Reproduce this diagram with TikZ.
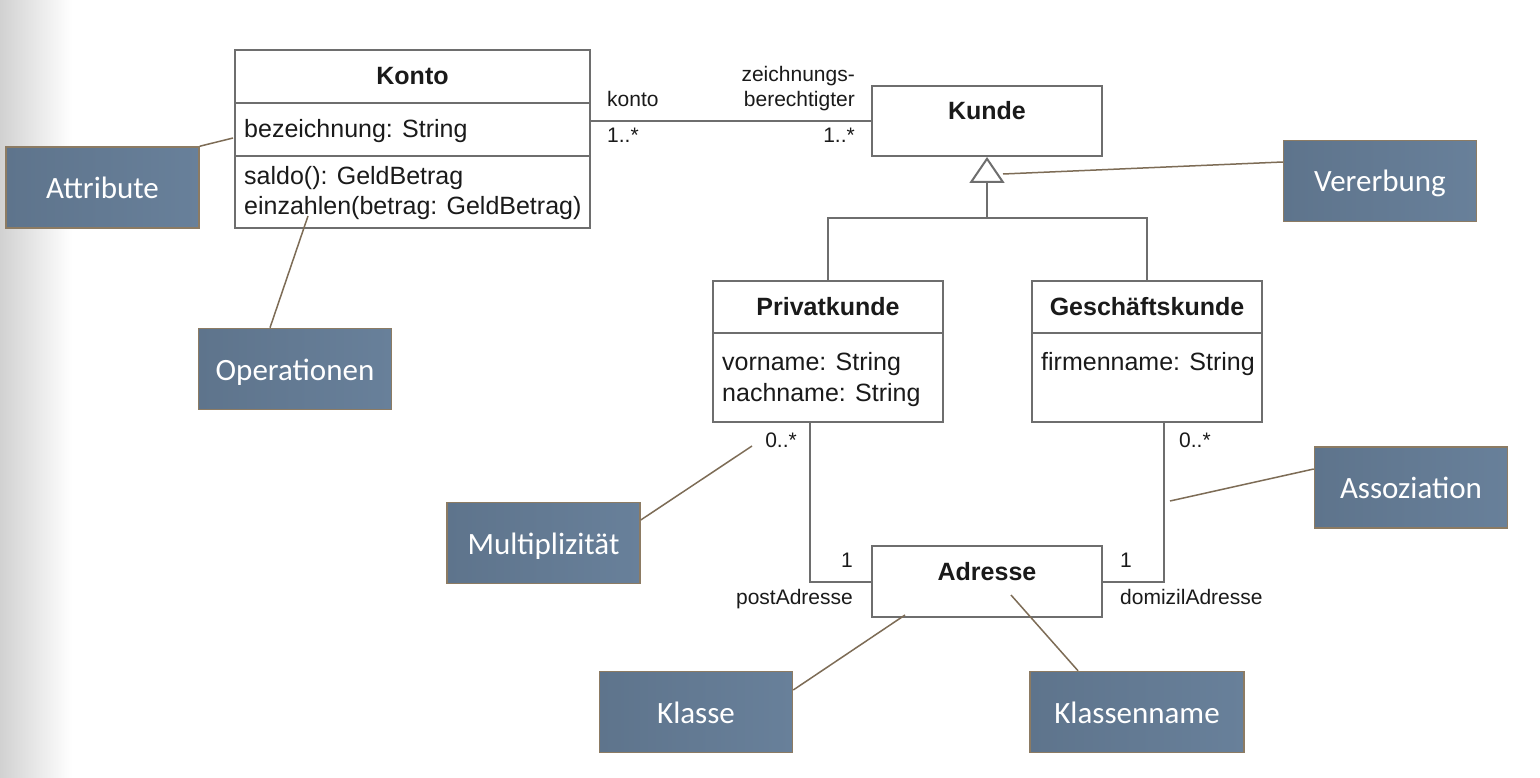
\documentclass[tikz,border=0pt]{standalone}
\usepackage{fontspec}
\setmainfont{Liberation Sans}
\newfontfamily\calfont{Carlito}
\usetikzlibrary{arrows.meta}
\definecolor{umlgray}{HTML}{6E6E6E}
\definecolor{umltext}{HTML}{1A1A1A}
\definecolor{calfill}{HTML}{68809A}
\definecolor{calfillL}{HTML}{5E748C}
\definecolor{calborder}{HTML}{8C7B63}
\definecolor{calline}{HTML}{7D6C56}
\begin{document}
\begin{tikzpicture}[x=1pt,y=-1pt,
  umlbox/.style={draw=umlgray, line width=2pt, fill=white, inner sep=0pt},
  body/.style={font=\fontsize{25}{30}\selectfont, text=umltext, inner sep=0pt},
  title/.style={font=\fontsize{25}{30}\selectfont\bfseries, text=umltext, inner sep=0pt},
  lbl/.style={font=\fontsize{21}{25}\selectfont, text=umltext, inner sep=0pt},
  callout/.style={draw=calborder, line width=1.5pt, left color=calfillL, right color=calfill,
    text=white, font=\calfont\fontsize{31}{36}\selectfont,
    text height=24pt, text depth=2pt,
    minimum width=193pt, minimum height=81pt, inner sep=0pt},
  calln/.style={draw=calline, line width=1.5pt},
  assoc/.style={draw=umlgray, line width=2pt},
  divider/.style={draw=umlgray, line width=2pt},
]
\useasboundingbox (0,0) rectangle (1540,778);
\fill[white] (0,0) rectangle (1540,778);
\shade[left color=black!18, right color=white] (0,0) rectangle (72,778);

% ---------- Konto ----------
\node[umlbox, minimum width=355pt, minimum height=178pt] (konto) at (412.5,139) {};
\draw[divider] (konto.west |- 0,103) -- (konto.east |- 0,103);
\draw[divider] (konto.west |- 0,156) -- (konto.east |- 0,156);
\node[title, anchor=base] (kontoT) at (412.5,85) {Konto};
\node[body, anchor=base west] (kontoA) at (244,138) {bezeichnung: String};
\node[body, anchor=base west] (kontoO1) at (244,185) {saldo(): GeldBetrag};
\node[body, anchor=base west] (kontoO2) at (244,215) {einzahlen(betrag: GeldBetrag)};

% ---------- Kunde ----------
\node[umlbox, minimum width=230pt, minimum height=70pt] (kunde) at (987,121) {};
\node[title, anchor=base] (kundeT) at (987,120) {Kunde};

% ---------- Privatkunde ----------
\node[umlbox, minimum width=230pt, minimum height=141pt] (priv) at (828,351.5) {};
\draw[divider] (priv.west |- 0,333) -- (priv.east |- 0,333);
\node[title, anchor=base] (privT) at (828,315) {Privatkunde};
\node[body, anchor=base west] (privA1) at (722,370) {vorname: String};
\node[body, anchor=base west] (privA2) at (722,401) {nachname: String};

% ---------- Geschaeftskunde ----------
\node[umlbox, minimum width=230pt, minimum height=141pt] (gesch) at (1147,351.5) {};
\draw[divider] (gesch.west |- 0,333) -- (gesch.east |- 0,333);
\node[title, anchor=base] (geschT) at (1147,315) {Geschäftskunde};
\node[body, anchor=base west] (geschA) at (1041,370) {firmenname: String};

% ---------- Adresse ----------
\node[umlbox, minimum width=230pt, minimum height=71pt] (adr) at (987,581.5) {};
\node[title, anchor=base] (adrT) at (987,580) {Adresse};

% ---------- connectors ----------
\draw[assoc] (konto.east |- kunde.west) -- (kunde.west);
\coordinate (bar) at (987,218);
\draw[assoc] (priv.north) |- (bar) -| (gesch.north);
\draw[assoc, -{Triangle[open, length=26pt, width=35pt, fill=white]}] (bar) -- (kunde.south);
\draw[assoc] ([xshift=-18pt]priv.south) |- (adr.west);
\draw[assoc] ([xshift=17pt]gesch.south) |- (adr.east);

% ---------- association labels ----------
\node[lbl, anchor=base west] (lk) at (607,107) {konto};
\node[lbl, anchor=base east] (lz1) at (855,82) {zeichnungs-};
\node[lbl, anchor=base east] (lz2) at (855,107) {berechtigter};
\node[lbl, anchor=base west] (m1) at (607,143) {1..*};
\node[lbl, anchor=base east] (m2) at (855,143) {1..*};
\node[lbl, anchor=base east] (m3) at (797,447) {0..*};
\node[lbl, anchor=base west] (m4) at (1179,447) {0..*};
\node[lbl, anchor=base east] (m5) at (853,567) {1};
\node[lbl, anchor=base east] (lp) at (853,604) {postAdresse};
\node[lbl, anchor=base west] (m6) at (1120,567) {1};
\node[lbl, anchor=base west] (ld) at (1120,604) {domizilAdresse};

% ---------- callouts ----------
\node[callout] (attr) at (102.5,187.5) {Attribute};
\node[callout] (oper) at (295,369) {Operationen};
\node[callout] (multi) at (543.5,543) {Multiplizität};
\node[callout] (klasse) at (696,712) {Klasse};
\node[callout, minimum width=214pt] (klname) at (1137,712) {Klassenname};
\node[callout] (assoz) at (1411,487.5) {Assoziation};
\node[callout] (vererb) at (1380,181) {Vererbung};

\coordinate (pAttr) at (233,138);
\coordinate (pOper) at (308,216);
\coordinate (pMulti) at (752,446);
\coordinate (pKlasse) at (905,615);
\coordinate (pKlname) at (1011,595);
\coordinate (pAssoz) at (1170,501);
\coordinate (pVererb) at (1003,174);

\draw[calln] (attr.north east) -- (pAttr);
\draw[calln] (oper.north -| 270,0) -- (pOper);
\draw[calln] (multi.east |- 0,520) -- (pMulti);
\draw[calln] (klasse.east |- 0,690) -- (pKlasse);
\draw[calln] (klname.north -| 1078,0) -- (pKlname);
\draw[calln] (assoz.west |- 0,469) -- (pAssoz);
\draw[calln] (vererb.west |- 0,162) -- (pVererb);
\end{tikzpicture}
\end{document}
